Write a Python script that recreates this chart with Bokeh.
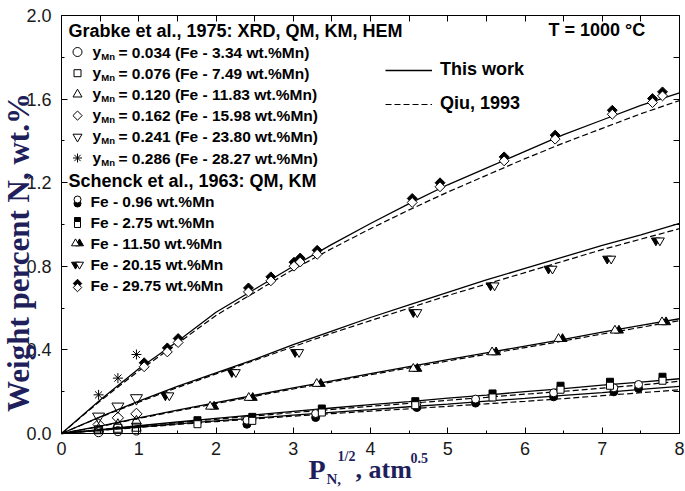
import math
from bokeh.plotting import figure
from bokeh.models import (Range1d, LinearAxis, FixedTicker, PrintfTickFormatter,
                          Label, Legend, LegendItem)
from bokeh.embed import file_html
from bokeh.resources import INLINE

# ---------------- data ----------------
p_half = [0, 0.5, 1, 1.5, 2, 2.5, 3, 3.5, 4, 4.5, 5, 5.5, 6, 6.5, 7, 7.5, 8]

work_2975 = [0, .16, .31, .44, .58, .69, .80, .905, 1.005, 1.10, 1.19, 1.27, 1.35, 1.43, 1.50, 1.57, 1.63]
qiu_2975 = [0, .155, .30, .43, .565, .675, .785, .885, .98, 1.07, 1.155, 1.235, 1.315, 1.39, 1.46, 1.53, 1.593]
work_2015 = [0, .08, .155, .225, .29, .355, .425, .49, .555, .615, .675, .735, .79, .845, .90, .95, 1.005]
qiu_2015 = [0, .078, .15, .22, .285, .35, .415, .48, .54, .60, .66, .715, .77, .825, .88, .93, .98]
work_1150 = [0, .035, .075, .112, .148, .183, .218, .252, .287, .32, .353, .386, .418, .45, .485, .517, .549]
qiu_1150 = [0, .033, .072, .108, .143, .178, .213, .247, .281, .314, .347, .379, .411, .443, .476, .508, .540]
work_0275 = [0, .019, .037, .055, .072, .089, .106, .122, .138, .153, .169, .184, .200, .215, .231, .246, .262]
qiu_0275 = [0, .018, .035, .052, .068, .084, .100, .115, .130, .144, .159, .173, .188, .202, .217, .232, .250]
work_0096 = [0, .016, .031, .046, .060, .074, .088, .101, .114, .128, .141, .155, .168, .182, .196, .211, .225]
qiu_0096 = [0, .015, .029, .043, .057, .070, .083, .095, .107, .118, .130, .142, .154, .167, .181, .195, .209]

# Grabke et al., 1975
grabke_x = [0.48, 0.73, 0.97]
grabke_0034 = [0.006, 0.011, 0.014]
grabke_0076 = [0.018, 0.025, 0.030]
grabke_0120 = [0.021, 0.043, 0.059]
grabke_0162 = [0.043, 0.075, 0.094]
grabke_0241 = [0.081, 0.129, 0.169]
grabke_0286 = [0.185, 0.265, 0.378]
grabke_ymn = ["0.034", "0.076", "0.120", "0.162", "0.241", "0.286"]
grabke_wt = ["3.34", "7.49", "11.83", "15.98", "23.80", "28.27"]

# Schenck et al., 1963
sch_096_x = [2.40, 3.29, 4.60, 5.36, 6.37, 7.15, 7.47]
sch_096_y = [0.054, 0.086, 0.134, 0.155, 0.185, 0.209, 0.225]
sch_275_x = [1.76, 2.47, 3.37, 4.58, 5.58, 6.46, 7.10, 7.78]
sch_275_y = [0.054, 0.070, 0.110, 0.145, 0.182, 0.219, 0.238, 0.262]
sch_1150_x = [1.95, 2.45, 3.33, 4.58, 5.60, 6.46, 7.19, 7.80]
sch_1150_y = [0.129, 0.171, 0.238, 0.310, 0.389, 0.453, 0.493, 0.533]
sch_2015_x = [1.37, 2.23, 3.05, 4.58, 5.58, 6.33, 7.09, 7.72]
sch_2015_y = [0.182, 0.293, 0.389, 0.580, 0.708, 0.788, 0.836, 0.923]
sch_2975_x = [1.07, 1.37, 1.51, 2.42, 2.71, 3.01, 3.09, 3.31, 4.54, 4.90, 5.73, 6.39, 7.13, 7.65, 7.78]
sch_2975_y = [0.329, 0.400, 0.445, 0.687, 0.740, 0.810, 0.830, 0.867, 1.115, 1.190, 1.314, 1.418, 1.537, 1.593, 1.625]
sch_wt = ["0.96", "2.75", "11.50", "20.15", "29.75"]

x_ticks = [0, 1, 2, 3, 4, 5, 6, 7, 8]
y_ticks = [0.0, 0.4, 0.8, 1.2, 1.6, 2.0]

# ---------------- layout ----------------
W, H = 685, 491
AX_L, AX_R, AX_T, AX_B = 61, 679, 15, 433      # axis box in canvas pixels
XMAX, YMAX = 8.0, 2.0
kx = (AX_R - AX_L) / XMAX
ky = (AX_B - AX_T) / YMAX
NAVY = "#1f1f5c"

p = figure(width=W, height=H,
           x_range=Range1d(-AX_L / kx, (W - AX_L) / kx),
           y_range=Range1d(-(H - AX_B) / ky, YMAX + AX_T / ky),
           output_backend="svg", toolbar_location=None,
           min_border_left=0, min_border_right=0, min_border_top=0, min_border_bottom=0)
p.xgrid.visible = False
p.ygrid.visible = False
p.outline_line_color = None
p.background_fill_color = "white"
p.border_fill_color = "white"

x0, x1 = p.x_range.start, p.x_range.end
y0, y1 = p.y_range.start, p.y_range.end

# small screen shifts used to build the half-filled symbols
SH = 2.0
sx = SH / kx
sy = SH / ky
p.extra_x_ranges = {"xl": Range1d(x0 + sx, x1 + sx), "xr": Range1d(x0 - sx, x1 - sx),
                    "px": Range1d(0, W), "pxl": Range1d(SH, W + SH), "pxr": Range1d(-SH, W - SH)}
p.extra_y_ranges = {"yu": Range1d(y0 - sy, y1 - sy), "yd": Range1d(y0 + sy, y1 + sy),
                    "py": Range1d(0, H), "pyu": Range1d(-SH, H - SH), "pyd": Range1d(SH, H + SH)}

def style_axis(ax, minor_len=3):
    ax.axis_line_color = "black"
    ax.axis_line_width = 1
    ax.major_tick_in = 6
    ax.major_tick_out = 0
    ax.minor_tick_in = minor_len
    ax.minor_tick_out = 0
    ax.major_tick_line_color = "black"
    ax.minor_tick_line_color = "black"
    ax.major_label_text_font = "Liberation Sans"
    ax.major_label_text_font_size = "18px"
    ax.major_label_text_color = "#1a1a1a"

bx = p.xaxis[0]
bx.ticker = FixedTicker(ticks=x_ticks, minor_ticks=[i + 0.5 for i in x_ticks[:-1]])
bx.fixed_location = 0
bx.bounds = (0, XMAX)
style_axis(bx)
bx.major_label_standoff = 8

ly = p.yaxis[0]
ly.ticker = FixedTicker(ticks=y_ticks, minor_ticks=[round(v + 0.2, 1) for v in y_ticks[:-1]])
ly.formatter = PrintfTickFormatter(format="%.1f")
ly.fixed_location = 0
ly.bounds = (0, YMAX)
style_axis(ly)
ly.major_label_standoff = 10

# top and right frame sides: tick marks only (all given as minor ticks -> no labels)
tx = LinearAxis(ticker=FixedTicker(ticks=[], minor_ticks=[i * 0.5 for i in range(17)]),
                fixed_location=YMAX, bounds=(0, XMAX))
style_axis(tx, minor_len=6)
p.add_layout(tx, "above")
ry = LinearAxis(ticker=FixedTicker(ticks=[], minor_ticks=[round(i * 0.2, 1) for i in range(11)]),
                fixed_location=XMAX, bounds=(0, YMAX))
style_axis(ry, minor_len=6)
p.add_layout(ry, "right")

# ---------------- curves ----------------
solid_r = dashed_r = None
for w, q in [(work_2975, qiu_2975), (work_2015, qiu_2015), (work_1150, qiu_1150),
             (work_0275, qiu_0275), (work_0096, qiu_0096)]:
    solid_r = p.line(p_half, w, line_color="black", line_width=1.3)
    dashed_r = p.line(p_half, q, line_color="black", line_width=1.2, line_dash="6 3")

# ---------------- Grabke open symbols ----------------
D45 = math.pi / 4
grabke_markers = [("circle", 0), ("square", 0), ("triangle", 0), ("square", D45),
                  ("inverted_triangle", 0), ("asterisk", 0)]
grabke_series = [grabke_0034, grabke_0076, grabke_0120, grabke_0162, grabke_0241, grabke_0286]
grabke_sizes = [9, 8, 10, 8, 12, 10]
grabke_leg_sizes = [9, 7, 9, 6.5, 9, 9]
for (m, a), ys, s in zip(grabke_markers, grabke_series, grabke_sizes):
    p.scatter(grabke_x, ys, marker=m, angle=a, size=s, fill_color=None,
              line_color="black", line_width=1)

# ---------------- Schenck half-filled symbols ----------------
opp = {"up": "down", "down": "up", "left": "right", "right": "left"}

def shifted(direction, pixel=False):
    pre = "p" if pixel else ""
    xr = "px" if pixel else "default"
    yr = "py" if pixel else "default"
    if direction == "up":
        yr = pre + "yu"
    elif direction == "down":
        yr = pre + "yd"
    elif direction == "left":
        xr = pre + "xl"
    elif direction == "right":
        xr = pre + "xr"
    return xr, yr

def half_filled(xs, ys, marker, angle, filled_dir, size, pixel=False):
    xr, yr = shifted(filled_dir, pixel)
    p.scatter(xs, ys, marker=marker, angle=angle, size=size, fill_color="black",
              line_color="black", line_width=1, x_range_name=xr, y_range_name=yr)
    xr, yr = shifted(opp[filled_dir], pixel)
    p.scatter(xs, ys, marker=marker, angle=angle, size=size, fill_color="white",
              line_color="black", line_width=1, x_range_name=xr, y_range_name=yr)

sch_sets = [(sch_096_x, sch_096_y, "circle", 0, "down", 8),
            (sch_275_x, sch_275_y, "square", 0, "up", 7),
            (sch_1150_x, sch_1150_y, "triangle", 0, "right", 9),
            (sch_2015_x, sch_2015_y, "inverted_triangle", 0, "left", 9),
            (sch_2975_x, sch_2975_y, "square", D45, "up", 7)]
for xs, ys, m, a, d, s in sch_sets:
    half_filled(xs, ys, m, a, d, s)

# ---------------- text helpers (canvas pixel positions, y from top) ----------------
def lab(text, x, y, size, font="Liberation Sans", style="bold", color="black",
        align="left", angle=0.0):
    p.add_layout(Label(x=x, y=H - y, x_units="screen", y_units="screen", text=text,
                       text_font=font, text_font_size=f"{size}px", text_font_style=style,
                       text_color=color, text_align=align, text_baseline="middle",
                       angle=angle))

MX = 77  # legend symbol column

# Grabke block
lab("Grabke et al., 1975: XRD, QM, KM, HEM", 68, 30, 18)
g_rows = [51.5 + 21.2 * i for i in range(6)]
for i, ((m, a), s) in enumerate(zip(grabke_markers, grabke_leg_sizes)):
    yc = g_rows[i]
    p.scatter([MX], [H - yc], marker=m, angle=a, size=s, fill_color=None,
              line_color="black", x_range_name="px", y_range_name="py")
    lab("y", 92, yc - 1, 15.5)
    lab("Mn", 100.8, yc + 4, 9.5)
    lab(f"= {grabke_ymn[i]} (Fe - {grabke_wt[i]} wt.%Mn)", 118, yc, 15.5)

# Schenck block
lab("Schenck et al., 1963: QM, KM", 68, 180, 18)
s_rows = [201 + 21 * i for i in range(5)]
for i, (xs, ys, m, a, d, s) in enumerate(sch_sets):
    yc = s_rows[i]
    half_filled([MX], [H - yc], m, a, d, s - 1, pixel=True)
    lab(f"Fe - {sch_wt[i]} wt.%Mn", 90, yc, 15.5)

lab("T = 1000 °C", 548, 29, 18)

# line legend
leg = Legend(items=[LegendItem(label="This work", renderers=[solid_r]),
                    LegendItem(label="Qiu, 1993", renderers=[dashed_r])],
             location=(385, H - 114))
leg.border_line_color = None
leg.background_fill_alpha = 0
leg.label_text_font = "Liberation Sans"
leg.label_text_font_style = "bold"
leg.label_text_font_size = "18px"
leg.label_text_color = "black"
leg.glyph_width = 47
leg.glyph_height = 20
leg.label_height = 20
leg.spacing = 13
leg.padding = 0
leg.margin = 0
leg.label_standoff = 8
p.add_layout(leg)

# axis titles
lab("Weight percent N, wt.%", 18, 252, 31, font="Liberation Serif", color=NAVY,
    align="center", angle=math.pi / 2)
lab("P", 308, 469, 28, font="Liberation Serif", color=NAVY)
lab("N,", 326, 478, 15, font="Liberation Serif", color=NAVY)
lab("1/2", 337, 456, 14, font="Liberation Serif", color=NAVY)
lab(", atm", 355, 469, 26, font="Liberation Serif", color=NAVY)
lab("0.5", 410, 457, 14, font="Liberation Serif", color=NAVY)

open("out.html", "w").write(file_html(p, INLINE))
